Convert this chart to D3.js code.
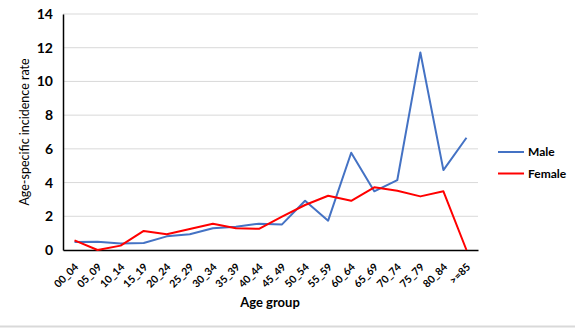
<!DOCTYPE html>
<html><head><meta charset="utf-8">
<script src="https://cdn.jsdelivr.net/npm/d3@7"></script>
<style>body{margin:0;background:#fff}svg{display:block}</style>
</head><body>
<script>
const categories = ["00_04","05_09","10_14","15_19","20_24","25_29","30_34","35_39","40_44","45_49","50_54","55_59","60_64","65_69","70_74","75_79","80_84",">=85"];
const male   = [0.47,0.49,0.38,0.42,0.81,0.93,1.29,1.38,1.56,1.52,2.92,1.74,5.77,3.48,4.15,11.72,4.74,6.66];
const female = [0.57,0.0,0.26,1.13,0.93,1.25,1.56,1.29,1.26,1.98,2.67,3.22,2.92,3.72,3.52,3.18,3.48,0.0];
const yTicks = [0,2,4,6,8,10,12,14];
const seriesNames = ["Male","Female"];
const seriesColors = ["#4472C4","#FF0000"];

const W=575,H=328;
const svg=d3.select("body").append("svg").attr("width",W).attr("height",H);
const font="Lato, 'Open Sans', sans-serif";
const x0=63,x1=478,yTop=14,yBot=250;
const x=d3.scaleBand().domain(categories).range([x0,x1]);
const y=d3.scaleLinear().domain([0,14]).range([yBot,yTop]);

// bottom border
svg.append("line").attr("x1",0).attr("x2",W).attr("y1",326.5).attr("y2",326.5).attr("stroke","#d9d9d9").attr("stroke-width",2);

// gridlines
svg.append("g").selectAll("line").data(yTicks.filter(d=>d>0)).join("line")
 .attr("x1",x0).attr("x2",x1).attr("y1",d=>y(d)).attr("y2",d=>y(d))
 .attr("stroke","#d9d9d9").attr("stroke-width",1);

// y axis
const ya=svg.append("g").attr("transform",`translate(${x0},0)`)
 .call(d3.axisLeft(y).tickValues(yTicks).tickSize(0).tickPadding(10));
ya.select(".domain").attr("stroke","#000").attr("stroke-width",1.5);
ya.selectAll("text").attr("font-family",font).attr("font-size",14).attr("font-weight","bold").attr("fill","#000");

// x axis
const xa=svg.append("g").attr("transform",`translate(0,${yBot})`)
 .call(d3.axisBottom(x).tickSize(0).tickPadding(8));
xa.select(".domain").attr("stroke","#000").attr("stroke-width",1.5);
xa.selectAll("text").attr("font-family",font).attr("font-size",10.5).attr("font-weight","bold").attr("fill","#000")
 .attr("text-anchor","end").attr("dy","0.35em")
 .attr("transform","translate(2,15) rotate(-45)")
 .attr("x",0).attr("y",0);

// lines
const line=d3.line().x((d,i)=>x(categories[i])+x.bandwidth()/2).y(d=>y(d));
[male,female].forEach((s,k)=>{
  svg.append("path").datum(s).attr("d",line).attr("fill","none")
   .attr("stroke",seriesColors[k]).attr("stroke-width",2).attr("stroke-linejoin","round");
});

// axis titles
svg.append("text").attr("transform","translate(29,132) rotate(-90)").attr("text-anchor","middle")
 .attr("font-family",font).attr("font-size",12.5).attr("fill","#000").text("Age-specific incidence rate");
svg.append("text").attr("x",270).attr("y",307).attr("text-anchor","middle")
 .attr("font-family",font).attr("font-size",13).attr("font-weight","bold").attr("fill","#000").text("Age group");

// legend
const lg=svg.append("g");
seriesNames.forEach((n,k)=>{
  const yy=152+k*21.5;
  lg.append("line").attr("x1",498).attr("x2",524).attr("y1",yy).attr("y2",yy).attr("stroke",seriesColors[k]).attr("stroke-width",2);
  lg.append("text").attr("x",528).attr("y",yy).attr("dy","0.35em").attr("font-family",font).attr("font-size",12)
   .attr("font-weight","bold").attr("fill","#000").text(n);
});
</script>
</body></html>
